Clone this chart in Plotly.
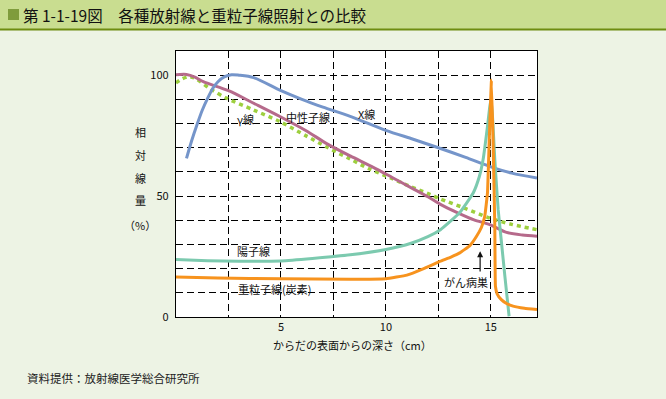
import plotly.graph_objects as go

# ---------------- data ----------------
xray_x = [0.5, 0.75, 1.0, 1.25, 1.5, 1.75, 2.0, 2.3, 2.65, 3.0, 3.7, 5.0, 6.0, 7.0, 8.3, 10.0, 11.3, 12.5, 13.8, 15.0, 16.0, 17.2]
xray_y = [65.6, 73.0, 79.5, 85.5, 90.3, 94.5, 97.3, 99.3, 100.2, 100.0, 99.0, 93.6, 90.0, 86.8, 83.0, 77.2, 73.5, 70.0, 66.0, 62.1, 59.5, 57.5]

gamma_x = [0, 0.3, 0.65, 1.0, 1.6, 2.4, 3.7, 4.95, 6.2, 7.2, 8.3, 9.2, 10.2, 11.1, 12.1, 12.6, 13.7, 14.95, 16.0, 17.2]
gamma_y = [96.8, 98.5, 99.4, 98.3, 94.5, 90.5, 85.6, 80.8, 74.9, 70.2, 65.3, 61.3, 57.6, 54.2, 50.7, 48.8, 45.2, 40.9, 38.3, 36.1]

neutron_x = [0, 0.5, 0.9, 1.3, 2.5, 3.7, 4.95, 6.2, 7.2, 8.3, 9.4, 10.3, 11.3, 12.0, 12.6, 13.4, 14.2, 14.95, 15.75, 16.5, 17.2]
neutron_y = [100.2, 100.3, 99.2, 97.3, 93.6, 88.4, 82.9, 77.0, 71.6, 66.6, 61.9, 57.7, 53.0, 49.7, 46.6, 43.2, 40.2, 38.2, 35.0, 33.9, 33.4]

proton_x = [0, 1.5, 3.0, 5.0, 6.5, 8.3, 10.0, 11.2, 12.0, 12.6, 13.5, 14.16, 14.45, 14.63, 14.84, 14.95, 15.02, 15.1, 15.19, 15.35, 15.51, 15.67, 15.87]
proton_y = [23.8, 23.3, 23.1, 23.2, 24.2, 25.7, 27.9, 30.5, 33.2, 36.1, 43.0, 51.3, 58.0, 65.0, 78.8, 87.0, 90.0, 80.0, 65.0, 44.4, 30.6, 16.8, 0.3]

carbon_x = [0, 2.0, 5.0, 8.3, 10.0, 11.0, 11.8, 12.57, 13.1, 13.52, 14.0, 14.32, 14.55, 14.71, 14.84, 14.92, 15.03, 15.11, 15.19, 15.22, 15.3, 15.5, 15.75, 16.06, 16.6, 17.2]
carbon_y = [16.5, 16.1, 15.8, 15.6, 15.8, 17.3, 20.0, 23.0, 24.8, 26.5, 29.5, 33.4, 37.0, 41.6, 51.3, 71.9, 98.0, 71.9, 37.5, 12.7, 9.6, 7.2, 5.6, 4.5, 3.6, 3.1]

x_tickvals = [2.5, 5, 7.5, 10, 12.5, 15]
x_ticktext = ["", "5", "", "10", "", "15"]
y_tickvals = [0, 10, 20, 30, 40, 50, 60, 70, 80, 90, 100]
y_ticktext = ["0", "", "", "", "", "50", "", "", "", "", "100"]

title_text = "第 1-1-19図　各種放射線と重粒子線照射との比較"
xaxis_title = "からだの表面からの深さ（cm）"
yaxis_chars = ["相", "対", "線", "量", "（%）"]
yaxis_char_y = [76.3, 66.8, 57.6, 48.5, 37.9]
source_text = "資料提供：放射線医学総合研究所"

FONT = "Noto Sans CJK JP"

fig = go.Figure()
fig.add_trace(go.Scatter(x=gamma_x, y=gamma_y, mode="lines",
                         line=dict(color="#9DCF3E", width=3.5, dash="4px,4px", shape="spline", smoothing=0.8)))
fig.add_trace(go.Scatter(x=neutron_x, y=neutron_y, mode="lines",
                         line=dict(color="#B66A8B", width=3, shape="spline", smoothing=0.8)))
fig.add_trace(go.Scatter(x=xray_x, y=xray_y, mode="lines",
                         line=dict(color="#7595CA", width=3, shape="spline", smoothing=0.8)))
fig.add_trace(go.Scatter(x=proton_x, y=proton_y, mode="lines",
                         line=dict(color="#7CCAAF", width=3, shape="spline", smoothing=0.4)))
fig.add_trace(go.Scatter(x=carbon_x, y=carbon_y, mode="lines",
                         line=dict(color="#F7931E", width=3, shape="spline", smoothing=0.3)))

annotations = []
# curve labels
for txt, x, y in [("γ線", 3.29, 81.9), ("中性子線", 6.29, 82.6), ("X線", 9.1, 84.0),
                  ("陽子線", 3.67, 27.2), ("重粒子線(炭素)", 4.71, 11.4), ("がん病巣", 13.8, 14.4)]:
    annotations.append(dict(x=x, y=y, xref="x", yref="y", text=txt, showarrow=False,
                            font=dict(family=FONT, size=11, color="#111111"),
                            xanchor="center", yanchor="middle"))
# arrow
annotations.append(dict(x=14.49, y=27.2, ax=14.49, ay=18.2, xref="x", yref="y", axref="x", ayref="y",
                        text="", showarrow=True, arrowhead=2, arrowsize=1, arrowwidth=1.2, arrowcolor="#111111"))
# y axis title, stacked characters
for ch, yy in zip(yaxis_chars, yaxis_char_y):
    annotations.append(dict(x=-0.0996, y=yy, xref="paper", yref="y", text=ch, showarrow=False,
                            font=dict(family=FONT, size=11, color="#111111"),
                            xanchor="center", yanchor="middle"))
# x axis title
annotations.append(dict(x=0.49, y=-0.107, xref="paper", yref="paper", text=xaxis_title, showarrow=False,
                        font=dict(family=FONT, size=11, color="#111111"), xanchor="center", yanchor="middle"))
# source
annotations.append(dict(x=-0.4177, y=-0.2308, xref="paper", yref="paper", text=source_text, showarrow=False,
                        font=dict(family=FONT, size=11.5, color="#222222"), xanchor="left", yanchor="middle"))
# title
annotations.append(dict(x=-0.4288, y=1.137, xref="paper", yref="paper", text=title_text, showarrow=False,
                        font=dict(family=FONT, size=15.5, color="#111111"), xanchor="left", yanchor="middle"))

shapes = [
    # title band
    dict(type="rect", xref="paper", yref="paper", xsizemode="pixel", ysizemode="pixel",
         xanchor=0, yanchor=1, x0=-176, x1=490, y0=21, y1=52,
         fillcolor="#C9DD90", line=dict(width=0), layer="below"),
    dict(type="line", xref="paper", yref="paper", xsizemode="pixel", ysizemode="pixel",
         xanchor=0, yanchor=1, x0=-176, x1=490, y0=21.5, y1=21.5,
         line=dict(color="#6E8C10", width=2)),
    # small square icon
    dict(type="rect", xref="paper", yref="paper", xsizemode="pixel", ysizemode="pixel",
         xanchor=0, yanchor=1, x0=-168, x1=-157, y0=31, y1=42,
         fillcolor="#7F9C3C", line=dict(width=0)),
]

fig.update_layout(
    width=666, height=399,
    margin=dict(l=176, r=128.5, t=51, b=81.5),
    paper_bgcolor="#EDF3E4", plot_bgcolor="#FFFFFF",
    showlegend=False,
    annotations=annotations, shapes=shapes,
    font=dict(family=FONT, size=11, color="#111111"),
)
fig.update_xaxes(range=[0, 17.2], tickvals=x_tickvals, ticktext=x_ticktext,
                 showgrid=True, gridcolor="#000000", gridwidth=1, griddash="7px,4px",
                 showline=True, linecolor="#000000", linewidth=1.3, mirror=True,
                 ticks="", zeroline=False, tickfont=dict(family=FONT, size=11, color="#111111"))
fig.update_yaxes(range=[0, 110], tickvals=y_tickvals, ticktext=y_ticktext,
                 showgrid=True, gridcolor="#000000", gridwidth=1, griddash="7px,4px",
                 showline=True, linecolor="#000000", linewidth=1.3, mirror=True,
                 ticks="", zeroline=False, ticklabelstandoff=4,
                 tickfont=dict(family=FONT, size=11, color="#111111"))

fig.write_html("out.html", config={"displayModeBar": False},
               post_script="document.body.style.margin='0';document.body.style.background='#EDF3E4';")
